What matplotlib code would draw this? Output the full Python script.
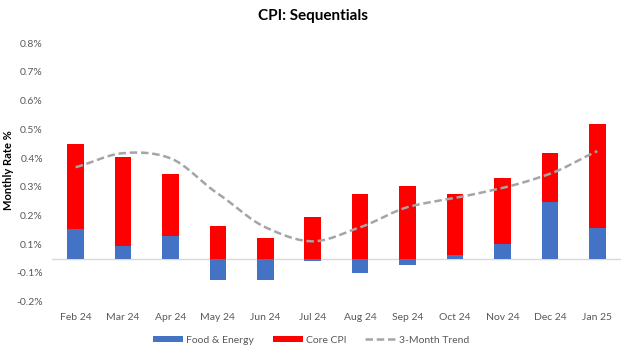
#!/usr/bin/env python3

import matplotlib.pyplot as plt
import numpy as np

plt.rcParams['font.family'] = ['Lato', 'DejaVu Sans']

months = ["Feb 24", "Mar 24", "Apr 24", "May 24", "Jun 24", "Jul 24",
          "Aug 24", "Sep 24", "Oct 24", "Nov 24", "Dec 24", "Jan 25"]
food_energy = [0.102, 0.043, 0.080, -0.076, -0.076, -0.009,
               -0.049, -0.021, 0.014, 0.049, 0.196, 0.108]
core_cpi = [0.298, 0.309, 0.214, 0.115, 0.073, 0.146,
            0.226, 0.251, 0.212, 0.233, 0.170, 0.362]
trend = [0.318, 0.367, 0.349, 0.226, 0.109, 0.060,
         0.109, 0.179, 0.211, 0.246, 0.295, 0.374]

ytick_vals = [-0.15, -0.05, 0.05, 0.15, 0.25, 0.35, 0.45, 0.55, 0.65, 0.75]
ytick_labels = ["-0.2%", "-0.1%", "0.1%", "0.2%", "0.3%", "0.4%",
                "0.5%", "0.6%", "0.7%", "0.8%"]


def smooth(xs, ys, k=0.45, steps=12):
    # hermite curve through the points, softer than plain catmull-rom
    xs = np.asarray(xs, float)
    ys = np.asarray(ys, float)
    n = len(xs)
    mx = np.gradient(xs)
    my = np.zeros(n)
    my[1:-1] = (ys[2:] - ys[:-2]) / 2 * k * 2
    my[0] = (ys[1] - ys[0]) * k * 2
    my[-1] = (ys[-1] - ys[-2]) * k * 2
    t = np.linspace(0, 1, steps, endpoint=False)
    h00 = 2 * t**3 - 3 * t**2 + 1
    h10 = t**3 - 2 * t**2 + t
    h01 = -2 * t**3 + 3 * t**2
    h11 = t**3 - t**2
    outx, outy = [], []
    for i in range(n - 1):
        outx.extend(h00 * xs[i] + h10 * mx[i] + h01 * xs[i + 1] + h11 * mx[i + 1])
        outy.extend(h00 * ys[i] + h10 * my[i] + h01 * ys[i + 1] + h11 * my[i + 1])
    outx.append(xs[-1])
    outy.append(ys[-1])
    return outx, outy


x = np.arange(len(months))
fe = np.array(food_energy)
core_bottom = np.clip(fe, 0, None)

fig = plt.figure(figsize=(6.26, 3.54), dpi=100)
ax = fig.add_axes([0.083, 0.148, 0.909, 0.73])

b1 = ax.bar(x, fe, width=0.35, color='#4472C4', label='Food & Energy', zorder=2)
b2 = ax.bar(x, core_cpi, width=0.35, bottom=core_bottom, color='#FF0000',
            label='Core CPI', zorder=2)
sx, sy = smooth(x, trend)
l1, = ax.plot(sx, sy, color='#A5A5A5', linestyle=(0, (3, 1.5)), linewidth=1.8,
              label='3-Month Trend', zorder=3)
ax.axhline(0, color='#D9D9D9', linewidth=1, zorder=1)

ax.set_xlim(-0.5, len(months) - 0.5)
ax.set_ylim(-0.15, 0.75)
ax.set_yticks(ytick_vals)
ax.set_yticklabels(ytick_labels)
ax.set_xticks(x)
ax.set_xticklabels(months)
ax.tick_params(axis='both', length=0, labelsize=7.5, colors='#595959')
ax.tick_params(axis='x', pad=8)
ax.tick_params(axis='y', pad=6.5)
for s in ax.spines.values():
    s.set_visible(False)

fig.text(0.013, 0.52, "Monthly Rate %", rotation=90, fontsize=8,
         fontweight='bold', ha='center', va='center')
fig.suptitle("CPI: Sequentials", fontsize=11, fontweight='bold', y=0.975)

ax.legend([b1, b2, l1], ['Food & Energy', 'Core CPI', '3-Month Trend'],
          loc='upper center', bbox_to_anchor=(0.455, -0.095), ncol=3,
          frameon=False, fontsize=7.5, handlelength=2.9, handleheight=0.6,
          columnspacing=1.8, handletextpad=0.3, labelcolor='#595959')

plt.savefig("out.png", dpi=100)
